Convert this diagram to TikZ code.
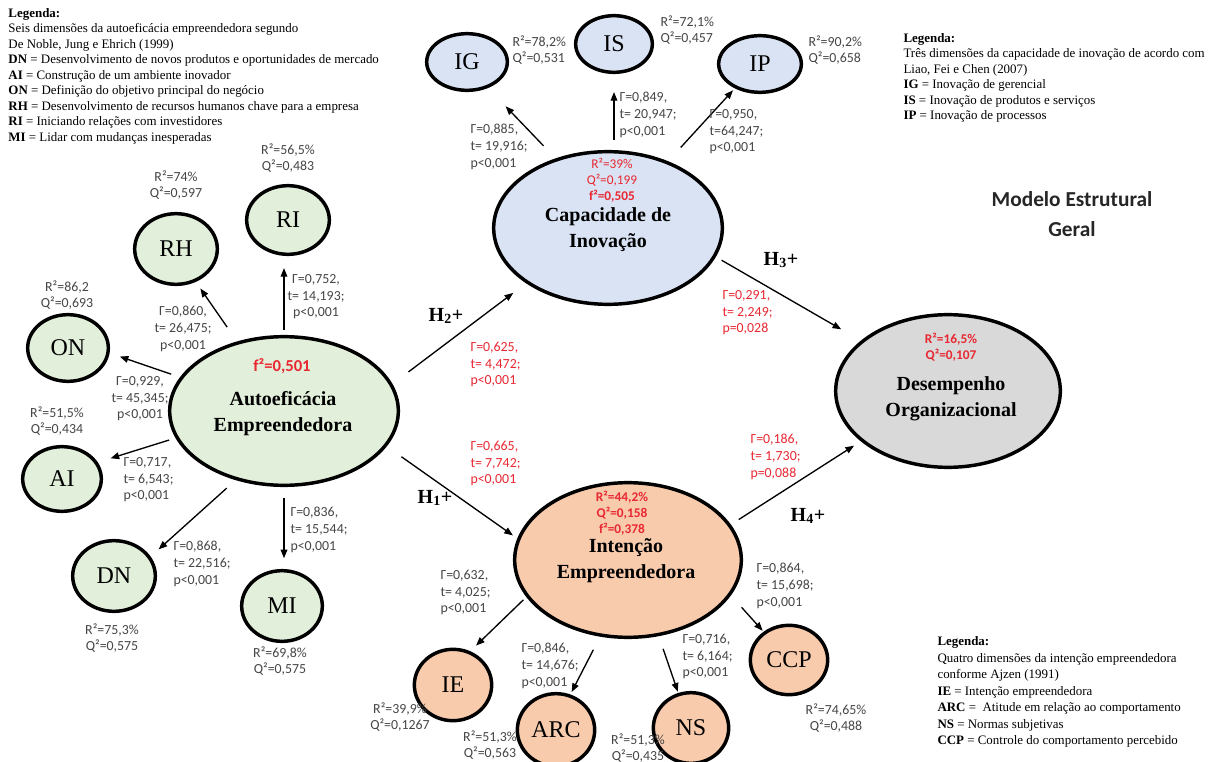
\documentclass[tikz,border=0pt]{standalone}
\usepackage{fontspec}
\setmainfont{Liberation Serif}
\newfontfamily\calibri{Carlito}
\usetikzlibrary{shapes.geometric,arrows.meta}

\definecolor{verdeAE}{RGB}{226,239,218}
\definecolor{azulCI}{RGB}{218,227,243}
\definecolor{laranjaIE}{RGB}{248,203,173}
\definecolor{cinzaDO}{RGB}{217,217,217}
\definecolor{txtcinza}{RGB}{70,70,70}
\definecolor{txtverm}{RGB}{232,40,50}

\newcommand{\coefs}[3]{Γ=#1,\\t= #2;\\#3}
\newcommand{\ajuste}[2]{R²=#1\\Q²=#2}

\tikzset{every picture/.style={line width=0.75pt}}
\tikzset{
  construto/.style={ellipse, draw=black, line width=2.6pt, inner sep=0pt},
  dimensao/.style={construto, font=\fontsize{18}{18}\selectfont},
  seta/.style={-{Triangle[length=6.5pt,width=5pt]}, line width=1pt, shorten <=8pt, shorten >=8pt},
  coef/.style={font=\calibri\fontsize{10.4}{12.4}\selectfont, text=txtcinza, inner sep=0pt, align=left, anchor=north west},
  coefc/.style={coef, align=center, anchor=north},
  coefv/.style={coef, text=txtverm},
  estat/.style={font=\calibri\bfseries\fontsize{10}{12}\selectfont, text=txtverm, inner sep=0pt, align=center},
  titulo/.style={font=\bfseries\fontsize{15}{19.5}\selectfont, inner sep=0pt, align=center},
  hip/.style={font=\bfseries\fontsize{15}{15}\selectfont, inner sep=0pt},
  legenda/.style={font=\fontsize{9.7}{11.6}\selectfont, inner sep=0pt, align=left, anchor=north west},
}

\begin{document}
\begin{tikzpicture}[x=0.75pt,y=0.75pt,yscale=-1,xscale=1]
\useasboundingbox (0,0) rectangle (1219,762);
\fill[white] (0,0) rectangle (1219,762);

%Shape: Ellipse (constructs)
\node[construto, fill=verdeAE, minimum width=171.5pt, minimum height=111.5pt] (ae) at (284,411) {};
\node[construto, fill=azulCI, minimum width=171.5pt, minimum height=114.5pt] (ci) at (608,228) {};
\node[construto, fill=laranjaIE, minimum width=170pt, minimum height=116pt] (inte) at (628,560) {};
\node[construto, fill=cinzaDO, minimum width=168.5pt, minimum height=114.5pt] (do) at (948,391) {};

%Shape: Ellipse (dimensions)
\node[dimensao, fill=azulCI, minimum width=60.5pt, minimum height=42.5pt] (ig) at (467,62) {IG};
\node[dimensao, fill=azulCI, minimum width=57.5pt, minimum height=42.5pt] (is) at (614,44) {IS};
\node[dimensao, fill=azulCI, minimum width=62pt, minimum height=42.5pt] (ip) at (760,64) {IP};
\node[dimensao, fill=verdeAE, minimum width=62pt, minimum height=53pt] (rh) at (176,249) {RH};
\node[dimensao, fill=verdeAE, minimum width=62pt, minimum height=51.5pt] (ri) at (288,220) {RI};
\node[dimensao, fill=verdeAE, minimum width=60.5pt, minimum height=50pt] (on) at (68,348) {ON};
\node[dimensao, fill=verdeAE, minimum width=59pt, minimum height=48.5pt] (ai) at (62,479) {AI};
\node[dimensao, fill=verdeAE, minimum width=62pt, minimum height=53pt] (dn) at (114,576) {DN};
\node[dimensao, fill=verdeAE, minimum width=60.5pt, minimum height=53pt] (mi) at (282,606) {MI};
\node[dimensao, fill=laranjaIE, minimum width=58pt, minimum height=53.5pt] (ie) at (453,685) {IE};
\node[dimensao, fill=laranjaIE, minimum width=58pt, minimum height=54.5pt] (arc) at (556,730) {ARC};
\node[dimensao, fill=laranjaIE, minimum width=56.5pt, minimum height=53pt] (ns) at (691,728) {NS};
\node[dimensao, fill=laranjaIE, minimum width=58pt, minimum height=52pt] (ccp) at (789,660) {CCP};

% Text Node (titles and statistics)
\node[estat, font=\calibri\bfseries\fontsize{12.5}{12.5}\selectfont] (f-ae) at (282,366) {f²=0,501};
\node[titulo] (t-ae) at (283,414) {Autoeficácia\\Empreendedora};
\node[estat] (s-ci) at (612,180) {\mdseries R²=39\%\\\mdseries Q²=0,199\\f²=0,505};
\node[titulo] (t-ci) at (608,230) {Capacidade de\\Inovação};
\node[estat] (s-inte) at (622,513) {R²=44,2\%\\Q²=0,158\\f²=0,378};
\node[titulo] (t-inte) at (626,561) {Intenção\\Empreendedora};
\node[estat] (s-do) at (951,347) {R²=16,5\%\\Q²=0,107};
\node[titulo] (t-do) at (951,399) {Desempenho\\Organizacional};

%Straight Lines
\draw[seta, shorten <=4pt, shorten >=9pt] (ae.north) -- (ae.north |- ri.south);
\draw[seta, shorten <=13pt, shorten >=6pt] (ae.124) -- (rh.301);
\draw[seta, shorten <=7pt, shorten >=8pt] (ae.162) -- (on.353);
\draw[seta, shorten <=5pt, shorten >=10pt] (ae.194) -- (ai.25);
\draw[seta, shorten <=9pt, shorten >=8pt] (ae.235) -- (dn.28);
\draw[seta] (ae.south) -- (ae.south |- mi.north);
\draw[seta, shorten <=15pt, shorten >=12pt] (ae.14) -- (ci.214);
\draw[seta, shorten <=13.5pt, shorten >=4pt] (ae.341) -- (inte.169);
\draw[seta, shorten <=13pt, shorten >=19pt] (ci.127) -- (ig.309);
\draw[seta, shorten <=7.5pt, shorten >=13.5pt] (is.south |- ci.north) -- (is.south);
\draw[seta, shorten <=14pt, shorten >=2pt] (ci.48) -- (ip.224);
\draw[seta, shorten <=5pt, shorten >=17pt] (ci.345) -- (do.150);
\draw[seta, shorten <=7pt, shorten >=6pt] (inte.19) -- (do.210);
\draw[seta, shorten <=3pt, shorten >=6pt] (inte.200) -- (ie.63);
\draw[seta, shorten <=11pt, shorten >=2pt] (inte.250) -- (arc.68);
\draw[seta, shorten <=10pt, shorten >=1pt] (inte.292) -- (ns.110);
\draw[seta, shorten <=12pt, shorten >=1pt] (inte.341) -- (ccp.132);

% Text Node (path coefficients)
\node[coef] (c-ig) at (470,124) {\coefs{0,885}{19,916}{p<0,001}};
\node[coef] (c-is) at (619,92) {\coefs{0,849}{20,947}{p<0,001}};
\node[coef] (c-ip) at (709,109) {Γ=0,950,\\t=64,247;\\p<0,001};
\node[coefc] (c-rh) at (183,306) {\coefs{0,860}{26,475}{p<0,001}};
\node[coefc] (c-ri) at (316,274) {\coefs{0,752}{14,193}{p<0,001}};
\node[coefc] (c-on) at (140,376) {\coefs{0,929}{45,345}{p<0,001}};
\node[coef] (c-ai) at (123,457) {\coefs{0,717}{6,543}{p<0,001}};
\node[coef] (c-dn) at (173,541) {\coefs{0,868}{22,516}{p<0,001}};
\node[coef] (c-mi) at (290,507) {\coefs{0,836}{15,544}{p<0,001}};
\node[coefv] (c-h2) at (470,342) {\coefs{0,625}{4,472}{p<0,001}};
\node[coefv] (c-h1) at (470,441) {\coefs{0,665}{7,742}{p<0,001}};
\node[coefv] (c-h3) at (722,290) {\coefs{0,291}{2,249}{p=0,028}};
\node[coefv] (c-h4) at (750,434) {\coefs{0,186}{1,730}{p=0,088}};
\node[coef] (c-ie) at (440,570) {\coefs{0,632}{4,025}{p<0,001}};
\node[coef] (c-arc) at (521,643) {\coefs{0,846}{14,676}{p<0,001}};
\node[coef] (c-ns) at (682,634) {\coefs{0,716}{6,164}{p<0,001}};
\node[coef] (c-ccp) at (756,563) {\coefs{0,864}{15,698}{p<0,001}};

% Text Node (R2 / Q2)
\node[coef] (a-ig) at (512,35) {\ajuste{78,2\%}{0,531}};
\node[coef] (a-is) at (660,15) {\ajuste{72,1\%}{0,457}};
\node[coef] (a-ip) at (808,35) {\ajuste{90,2\%}{0,658}};
\node[coefc] (a-ri) at (288,143) {\ajuste{56,5\%}{0,483}};
\node[coefc] (a-rh) at (176,170) {\ajuste{74\%}{0,597}};
\node[coefc] (a-on) at (67,280) {R²=86,2\\Q²=0,693};
\node[coefc] (a-ai) at (57,406) {\ajuste{51,5\%}{0,434}};
\node[coefc] (a-dn) at (112,623) {\ajuste{75,3\%}{0,575}};
\node[coefc] (a-mi) at (280,646) {\ajuste{69,8\%}{0,575}};
\node[coefc] (a-ie) at (400,702) {\ajuste{39,9\%}{0,1267}};
\node[coefc] (a-arc) at (490,730) {\ajuste{51,3\%}{0,563}};
\node[coefc] (a-ns) at (638,733) {\ajuste{51,3\%}{0,435}};
\node[coefc] (a-ccp) at (836,703) {\ajuste{74,65\%}{0,488}};

% Text Node (hypotheses)
\node[hip] (h1) at (435,498) {H\textsubscript{1}+};
\node[hip] (h2) at (446,316) {H\textsubscript{2}+};
\node[hip] (h3) at (781,260) {H\textsubscript{3}+};
\node[hip] (h4) at (808,516) {H\textsubscript{4}+};

% Text Node (title)
\node[font=\calibri\bfseries\fontsize{16}{22}\selectfont, text=black!85, align=center, inner sep=0pt] (modelo) at (1072,214) {Modelo Estrutural\\Geral};

% Text Node (legends)
\node[legenda] (leg-ae) at (8,8) {\textbf{Legenda:}\\
Seis dimensões da autoeficácia empreendedora segundo\\
De Noble, Jung e Ehrich (1999)\\
\textbf{DN} = Desenvolvimento de novos produtos e oportunidades de mercado\\
\textbf{AI} = Construção de um ambiente inovador\\
\textbf{ON} = Definição do objetivo principal do negócio\\
\textbf{RH} = Desenvolvimento de recursos humanos chave para a empresa\\
\textbf{RI} = Iniciando relações com investidores\\
\textbf{MI} = Lidar com mudanças inesperadas};
\node[legenda] (leg-ci) at (903,33) {\textbf{Legenda:}\\
Três dimensões da capacidade de inovação de acordo com\\
Liao, Fei e Chen (2007)\\
\textbf{IG} = Inovação de gerencial\\
\textbf{IS} = Inovação de produtos e serviços\\
\textbf{IP} = Inovação de processos};
\node[legenda, font=\fontsize{9.7}{12.4}\selectfont] (leg-ie) at (937,636) {\textbf{Legenda:}\\
Quatro dimensões da intenção empreendedora\\
conforme Ajzen (1991)\\
\textbf{IE} = Intenção empreendedora\\
\textbf{ARC} = \ Atitude em relação ao comportamento\\
\textbf{NS} = Normas subjetivas\\
\textbf{CCP} = Controle do comportamento percebido};

\end{tikzpicture}
\end{document}
